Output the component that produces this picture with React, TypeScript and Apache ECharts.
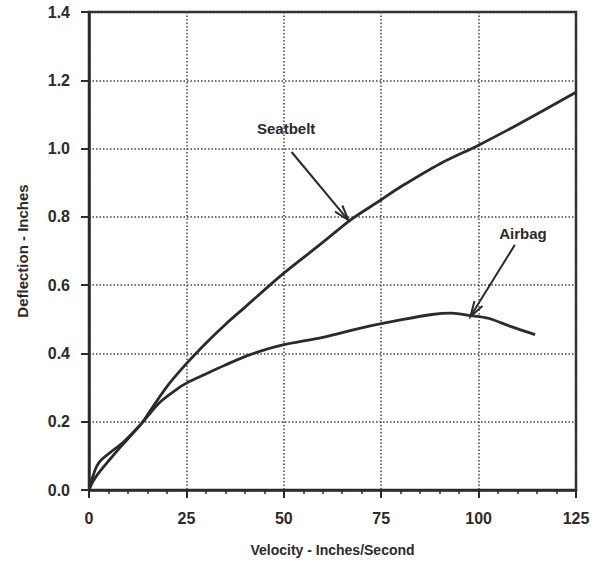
import React, { useEffect, useRef } from "react";
import * as echarts from "echarts";

const seatbeltX = [0, 1, 2.5, 5, 8, 10, 13.5, 16, 20, 25, 30, 35, 40, 50, 60, 67, 75, 80, 90, 100, 110, 125];
const seatbeltY = [0, 0.025, 0.05, 0.085, 0.125, 0.15, 0.195, 0.237, 0.303, 0.37, 0.43, 0.485, 0.535, 0.635, 0.725, 0.79, 0.85, 0.888, 0.955, 1.01, 1.07, 1.165];

const airbagX = [0, 1, 2, 3.3, 6, 8.8, 13.5, 18, 22.5, 25, 30, 35, 41, 49, 60, 70, 80, 88, 93, 98, 102.5, 108, 114.5];
const airbagY = [0, 0.04, 0.07, 0.09, 0.115, 0.14, 0.195, 0.255, 0.295, 0.313, 0.34, 0.366, 0.395, 0.423, 0.447, 0.475, 0.498, 0.514, 0.518, 0.511, 0.503, 0.48, 0.455];

const xTicks = [0, 25, 50, 75, 100, 125];
const yTicks = [0, 0.2, 0.4, 0.6, 0.8, 1.0, 1.2, 1.4];

const annotationLabels = ["Seatbelt", "Airbag"];
const annotationTextX = [50.6, 111.4];
const annotationTextY = [1.06, 0.75];
const arrowFromX = [52.0, 109.3];
const arrowFromY = [0.99, 0.718];
const arrowToX = [66.6, 97.9];
const arrowToY = [0.79, 0.508];

const INK = "#2b2b2b";
const FONT = "'Liberation Sans', Arial, sans-serif";

export default function App() {
  const ref = useRef<HTMLDivElement>(null);
  useEffect(() => {
    if (!ref.current) return;
    const chart = echarts.init(ref.current, undefined, { renderer: "svg" });
    const annData = annotationLabels.map((l, i) => [
      annotationTextX[i], annotationTextY[i], arrowFromX[i], arrowFromY[i], arrowToX[i], arrowToY[i], i,
    ]);
    chart.setOption({
      animation: false,
      backgroundColor: "#ffffff",
      grid: {
        left: 89,
        right: 27,
        top: 12,
        bottom: 74,
        show: true,
        borderColor: INK,
        borderWidth: 2.5,
      },
      xAxis: {
        type: "value",
        min: 0,
        max: 125,
        interval: 25,
        name: "Velocity - Inches/Second",
        nameLocation: "middle",
        nameGap: 53,
        nameTextStyle: { fontFamily: FONT, fontWeight: "bold", fontSize: 14, color: INK },
        axisLine: { show: true, lineStyle: { color: INK, width: 2.5 } },
        axisTick: { show: true, inside: false, length: 8, lineStyle: { color: INK, width: 2 } },
        minorTick: { show: true, splitNumber: 5, length: 4, lineStyle: { color: INK, width: 1.5 } },
        axisLabel: {
          margin: 20,
          fontFamily: FONT,
          fontWeight: "bold",
          fontSize: 16,
          color: INK,
          formatter: (v: number) => (xTicks.includes(v) ? String(v) : ""),
        },
        splitLine: { show: true, lineStyle: { color: "#444", width: 1.5, type: [1.5, 2] } },
      },
      yAxis: {
        type: "value",
        min: 0,
        max: 1.4,
        interval: 0.2,
        name: "Deflection - Inches",
        nameLocation: "middle",
        nameGap: 59,
        nameRotate: 90,
        nameTextStyle: { fontFamily: FONT, fontWeight: "bold", fontSize: 15, color: INK },
        axisLine: { show: true, lineStyle: { color: INK, width: 2.5 } },
        axisTick: { show: true, inside: false, length: 8, lineStyle: { color: INK, width: 2 } },
        axisLabel: {
          margin: 19,
          fontFamily: FONT,
          fontWeight: "bold",
          fontSize: 16,
          color: INK,
          formatter: (v: number) => {
            const t = yTicks.find((y) => Math.abs(y - v) < 1e-6);
            return t === undefined ? "" : t.toFixed(1);
          },
        },
        splitLine: { show: true, lineStyle: { color: "#444", width: 1.5, type: [1.5, 2] } },
      },
      series: [
        {
          name: "Seatbelt",
          type: "line",
          smooth: 0.3,
          symbol: "none",
          lineStyle: { color: INK, width: 2.8 },
          data: seatbeltX.map((x, i) => [x, seatbeltY[i]]),
          z: 5,
        },
        {
          name: "Airbag",
          type: "line",
          smooth: 0.3,
          symbol: "none",
          lineStyle: { color: INK, width: 2.8 },
          data: airbagX.map((x, i) => [x, airbagY[i]]),
          z: 5,
        },
        {
          type: "custom",
          z: 6,
          clip: false,
          data: annData,
          renderItem: (params: any, api: any) => {
            const tp = api.coord([api.value(0), api.value(1)]);
            const a = api.coord([api.value(2), api.value(3)]);
            const b = api.coord([api.value(4), api.value(5)]);
            const idx = api.value(6);
            const ang = Math.atan2(a[1] - b[1], a[0] - b[0]);
            const L = 16;
            const spread = 0.3;
            const h1 = [b[0] + L * Math.cos(ang + spread), b[1] + L * Math.sin(ang + spread)];
            const h2 = [b[0] + L * Math.cos(ang - spread), b[1] + L * Math.sin(ang - spread)];
            return {
              type: "group",
              children: [
                {
                  type: "line",
                  shape: { x1: a[0], y1: a[1], x2: b[0], y2: b[1] },
                  style: { stroke: INK, lineWidth: 2 },
                },
                {
                  type: "polyline",
                  shape: { points: [h1, b, h2] },
                  style: { stroke: INK, lineWidth: 2, fill: "none" },
                },
                {
                  type: "text",
                  x: tp[0],
                  y: tp[1],
                  style: {
                    text: annotationLabels[idx],
                    fontFamily: FONT,
                    fontWeight: "bold",
                    fontSize: 15,
                    fill: INK,
                    align: "center",
                    verticalAlign: "middle",
                  },
                },
              ],
            };
          },
        },
      ],
    });
    return () => chart.dispose();
  }, []);
  return <div ref={ref} style={{ width: 603, height: 564, position: "absolute", left: 0, top: 0 }} />;
}
